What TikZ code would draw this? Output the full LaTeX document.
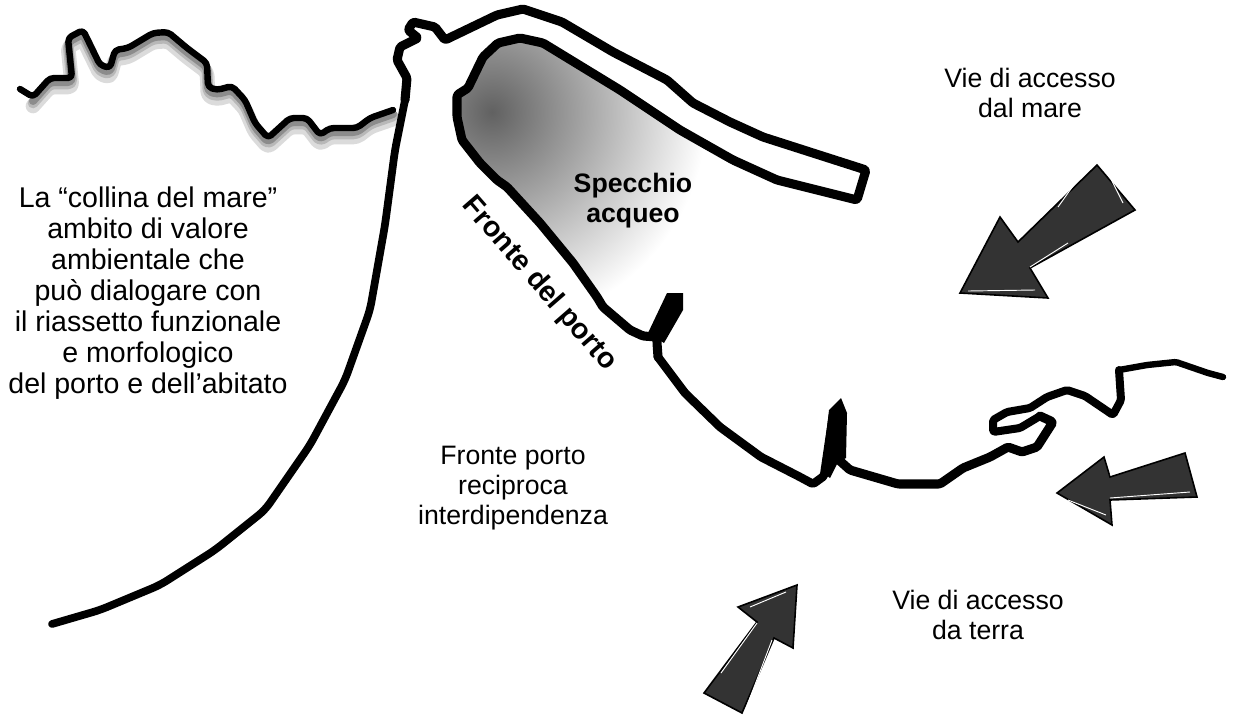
\documentclass[tikz,border=0pt]{standalone}
\usepackage{fontspec}
\setmainfont{Liberation Sans}
\usetikzlibrary{calc}
\tikzset{
  coast/.style={draw=black,line width=6.8pt,line join=round,line cap=round,rounded corners=1.2pt},
  hill/.style={draw=black,line width=4.8pt,line join=round,line cap=round,rounded corners=3pt},
  hillshadow/.style={line join=round,line cap=round,rounded corners=3pt},
  lbl/.style={align=center,inner sep=0pt,text=black,font=\fontsize{20}{22.8}\selectfont},
  boldlbl/.style={lbl,font=\fontsize{20}{22.4}\bfseries\selectfont},
  bigarrow/.style={fill=black!80,draw=black,line width=1.2pt,line join=miter},
  glint/.style={draw=white,line width=0.7pt},
}
\definecolor{seagray}{gray}{0.38}
\begin{document}
\begin{tikzpicture}[x=0.75pt,y=-0.75pt]
\useasboundingbox (0,0) rectangle (1234,715);
\fill[white] (0,0) rectangle (1234,715);
% water
\begin{scope}
\clip (498,43)--(520,38)--(543,43)--(620,90)--(680,130)--(733,160)--(690,300)--(660,338)--(630,328)--(607,303)--(583,277)--(557,243)--(520,203)--(508,187)--(497,180)--(480,163)--(462,140)--(457,117)--(457,95)--(468,88)--(483,57)--cycle;
\shade[inner color=seagray,outer color=white] (492,112) circle (215);
\end{scope}
% hill shadow
\foreach \o/\w/\c in {9/11/14,6/8/28,4/6/45}{
 \draw[hillshadow,draw=black!\c,line width=\w pt,yshift=-\o*0.75pt]
  (33,97)--(50,78)--(72,78)--(68,38)--(83,30)--(100,65)--(110,68)--(115,50)--(128,48)--(153,33)--(168,32)--(187,48)--(207,63)--(208,87)--(217,90)--(232,86)--(245,100)--(255,123)--(268,138)--(290,118)--(307,118)--(320,135)--(330,128)--(357,128)--(370,118)--(393,110);
}
% hill line
\draw[hill] (20,89)--(33,97)--(50,78)--(72,78)--(68,38)--(83,30)--(100,65)--(110,68)--(115,50)--(128,48)--(153,33)--(168,32)--(187,48)--(207,63)--(208,87)--(217,90)--(232,86)--(245,100)--(255,123)--(268,138)--(290,118)--(307,118)--(320,135)--(330,128)--(357,128)--(370,118)--(393,110);
% main coast, left
\draw[coast,line width=5.8pt,rounded corners=6pt] (52,624)--(100,610)--(160,585)--(215,550)--(265,510)--(310,445)--(345,380)--(370,310)--(385,225)--(395,150)--(405,100);
% mole and harbour front
\draw[coast] (405,100)--(407,78)--(397,60)--(400,47)--(418,38)--(408,30)--(413,22)--(435,27)--(445,40)--(497,15)--(523,9)--(562,22)--(613,52)--(667,80)--(693,103)--(730,122)--(763,137)--(866,170)--(857,200)--(777,180)--(733,160)--(680,130)--(620,90)--(543,43)--(520,38)--(498,43)--(483,57)--(468,88)--(457,95)--(457,117)--(462,140)--(480,163)--(497,180)--(507,187)--(540,223)--(573,263)--(597,297)--(603,307)--(630,330)--(643,336)--(657,337)--(657,343)--(658,357);
\draw[coast,line width=6.4pt] (658,357)--(685,393)--(720,427)--(761,457)--(800,477)--(813,484)--(824,476)--(833,415);
% wedge and spike
\fill[black] (667,293)--(683,293)--(683,310)--(664,343)--(648,333)--cycle;
\fill[black] (841,398)--(847,413)--(846,458)--(838,462)--(830,478)--(822,472)--(829,410)--cycle;
% coast, right
\draw[coast] (840,461)--(850,470)--(898,484)--(940,484)--(963,468)--(990,457)--(1008,447)--(1022,452)--(1037,447)--(1053,422)--(1040,416);
\draw[coast,line width=6pt] (1040,416)--(1020,428)--(993,432)--(993,420)--(1007,412)--(1030,408)--(1047,397)--(1067,390)--(1085,396)--(1113,415)--(1121,400)--(1119,370);
\draw[hill,rounded corners=1.2pt] (1119,370)--(1147,365)--(1176,362)--(1208,373)--(1223,377);
% arrows
\path[bigarrow] (1097,165)--(1135,210)--(1030,268)--(1048,298)--(960,293)--(1000,217)--(1018,242)--cycle;
\draw[glint] (1083,172)--(1058,207) (1110,177)--(1123,203) (1030,267)--(1068,243) (968,291)--(1035,290);
\path[bigarrow] (1185,453)--(1197,497)--(1110,500)--(1112,525)--(1057,493)--(1104,457)--(1110,477)--cycle;
\draw[glint] (1110,498)--(1190,492) (1068,500)--(1106,515) (1110,475)--(1170,455);
\path[bigarrow] (797,585)--(793,648)--(774,638)--(742,713)--(704,693)--(757,622)--(738,607)--cycle;
\draw[glint] (750,607)--(786,592) (721,673)--(757,623) (748,703)--(772,640);
% labels
\node[lbl] (mare) at (1030,93) {Vie di accesso\\dal mare};
\node[boldlbl] (specchio) at (633,201) {Specchio\\acqueo};
\node[lbl,font=\fontsize{21.5}{24}\bfseries\selectfont,rotate=-49] (fronte) at (539,284) {Fronte del porto};
\node[lbl,font=\fontsize{21.4}{23.3}\selectfont] (collina) at (148,293) {La “collina del mare”\\ambito di valore\\ambientale che\\può dialogare con\\il riassetto funzionale\\e morfologico\\del porto e dell’abitato};
\node[lbl] (reciproca) at (513,488) {Fronte porto\\reciproca\\interdipendenza};
\node[lbl] (terra) at (978,615) {Vie di accesso\\da terra};
\end{tikzpicture}
\end{document}
